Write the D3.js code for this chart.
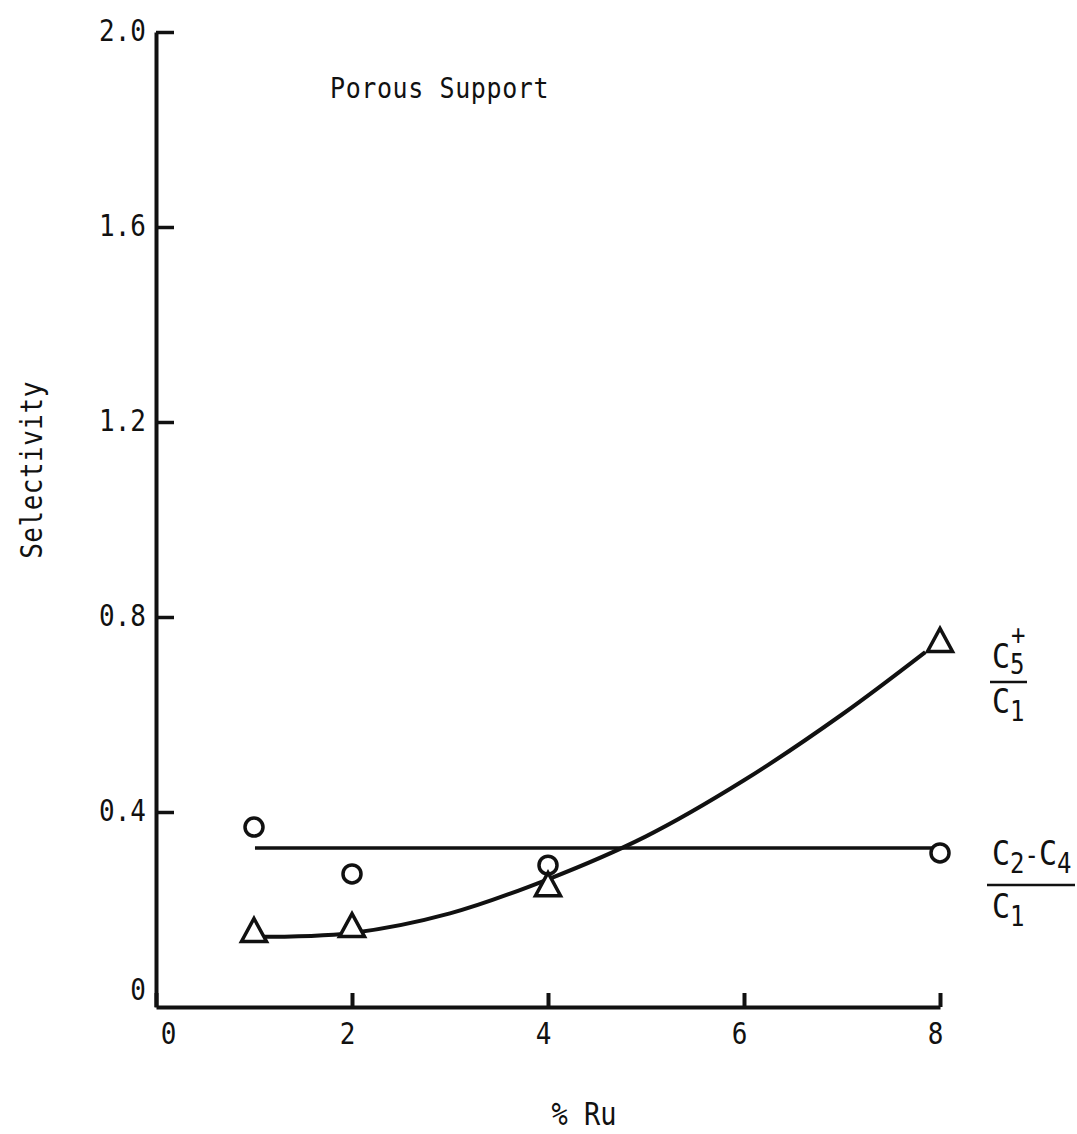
<!DOCTYPE html>
<html>
<head>
<meta charset="utf-8">
<script src="https://cdn.jsdelivr.net/npm/d3@7"></script>
<style>
  body { margin: 0; background: #fff; }
  text { font-family: "DejaVu Sans Mono", monospace; fill: #111; }
</style>
</head>
<body>
<div class="chart"></div>
<script>
// data
var xTicks = [0, 2, 4, 6, 8];
var yTicks = [0, 0.4, 0.8, 1.2, 1.6, 2.0];
var ruPct = [1, 2, 4, 8];
var c24Sel = [0.369, 0.273, 0.291, 0.316];   // circles, (C2-C4)/C1
var c5Sel = [0.158, 0.168, 0.252, 0.753];    // triangles, C5+/C1
var c24Fit = 0.326;                           // flat line level
var c5FitX = [1, 2, 3, 4, 5, 6, 7, 7.85];
var c5FitY = [0.144, 0.152, 0.192, 0.262, 0.35, 0.465, 0.6, 0.728];

var svgWidth = 1077, svgHeight = 1134;
var stretch = "scale(1,1.15)";   // typewriter lettering is taller than it is wide

var svg = d3.select(".chart")
    .append("svg")
    .attr("width", svgWidth)
    .attr("height", svgHeight);

// helper: text placed at x,y and stretched vertically
function addText(parent, px, py, size) {
    return parent.append("text")
        .attr("transform", "translate(" + px + "," + py + ") " + stretch)
        .attr("font-size", size);
}

// scales
var x = d3.scaleLinear().domain([0, 8]).range([156, 940]);
var y = d3.scaleLinear().domain([0, 2.0]).range([1007, 32]);

// x axis
var xAxis = d3.axisBottom(x)
    .tickValues(xTicks)
    .tickSizeInner(-14)
    .tickSizeOuter(0)
    .tickPadding(11)
    .tickFormat(d3.format("d"));

var gx = svg.append("g")
    .attr("transform", "translate(0," + y(0) + ")")
    .call(xAxis);
gx.select(".domain").attr("stroke-width", 4).attr("stroke", "#111");
gx.selectAll(".tick line").attr("stroke-width", 4).attr("stroke", "#111");
gx.selectAll(".tick text")
    .attr("font-size", 26)
    .attr("font-family", "DejaVu Sans Mono")
    .attr("transform", stretch)
    .attr("dx", function(d) { return d === 0 ? 12 : -5; })
    .attr("dy", "0.8em");

// y axis
var yAxis = d3.axisLeft(y)
    .tickValues(yTicks)
    .tickSizeInner(-18)
    .tickSizeOuter(0)
    .tickPadding(10)
    .tickFormat(function(d) { return d === 0 ? "0" : d3.format(".1f")(d); });

var gy = svg.append("g")
    .attr("transform", "translate(" + x(0) + ",0)")
    .call(yAxis);
gy.select(".domain").attr("stroke-width", 4).attr("stroke", "#111");
gy.selectAll(".tick line")
    .attr("stroke-width", 3.5).attr("stroke", "#111")
    .attr("display", function(d) { return d === 0 ? "none" : null; });
gy.selectAll(".tick text")
    .attr("font-size", 26)
    .attr("font-family", "DejaVu Sans Mono")
    .attr("transform", stretch)
    .attr("dy", function(d) { return d === 0 ? "-0.25em" : "0.3em"; });

// flat line for C2-C4
svg.append("line")
    .attr("x1", x(1.01)).attr("x2", x(8))
    .attr("y1", y(c24Fit)).attr("y2", y(c24Fit))
    .attr("stroke", "#111").attr("stroke-width", 3.5);

// curve for C5+
var fit = c5FitX.map(function(d, i) { return [d, c5FitY[i]]; });
var line = d3.line()
    .x(function(d) { return x(d[0]); })
    .y(function(d) { return y(d[1]); })
    .curve(d3.curveCatmullRom);

svg.append("path")
    .datum(fit)
    .attr("d", line)
    .attr("fill", "none")
    .attr("stroke", "#111")
    .attr("stroke-width", 4);

// circles
svg.selectAll(".circ")
    .data(ruPct)
    .enter()
    .append("circle")
    .attr("class", "circ")
    .attr("cx", function(d) { return x(d); })
    .attr("cy", function(d, i) { return y(c24Sel[i]); })
    .attr("r", 9)
    .attr("fill", "#fff")
    .attr("stroke", "#111")
    .attr("stroke-width", 3.5);

// triangles
svg.selectAll(".tri")
    .data(ruPct)
    .enter()
    .append("path")
    .attr("class", "tri")
    .attr("d", "M0,-11.5L12.5,11.5L-12.5,11.5Z")
    .attr("transform", function(d, i) {
        return "translate(" + x(d) + "," + y(c5Sel[i]) + ")";
    })
    .attr("fill", "#fff")
    .attr("stroke", "#111")
    .attr("stroke-width", 3.5)
    .attr("stroke-linejoin", "miter");

// title inside plot
addText(svg, 330, 98, 25)
    .attr("letter-spacing", 0.6)
    .text("Porous Support");

// axis labels
svg.append("text")
    .attr("transform", "translate(42,470) rotate(-90) scale(1.0,1.15)")
    .attr("text-anchor", "middle")
    .attr("font-size", 26)
    .attr("letter-spacing", 0.5)
    .text("Selectivity");

addText(svg, 584, 1125, 27)
    .attr("text-anchor", "middle")
    .text("% Ru");

// ratio labels on the right
var lab1 = svg.append("g");
var n1 = addText(lab1, 992, 668, 30);
n1.append("tspan").text("C");
n1.append("tspan").attr("font-size", 24).attr("dy", 5).text("5");
addText(lab1, 1011, 645, 24).text("+");
lab1.append("line")
    .attr("x1", 990).attr("x2", 1027).attr("y1", 682).attr("y2", 682)
    .attr("stroke", "#111").attr("stroke-width", 2.5);
var d1 = addText(lab1, 992, 713, 30);
d1.append("tspan").text("C");
d1.append("tspan").attr("font-size", 24).attr("dy", 7).text("1");

var lab2 = svg.append("g");
var n2 = addText(lab2, 992, 865, 30);
n2.append("tspan").text("C");
n2.append("tspan").attr("font-size", 24).attr("dy", 7).text("2");
n2.append("tspan").attr("font-size", 24).attr("dy", -7).text("-");
n2.append("tspan").text("C");
n2.append("tspan").attr("font-size", 24).attr("dy", 7).text("4");
lab2.append("line")
    .attr("x1", 987).attr("x2", 1075).attr("y1", 885).attr("y2", 885)
    .attr("stroke", "#111").attr("stroke-width", 2.5);
var d2 = addText(lab2, 992, 918, 30);
d2.append("tspan").text("C");
d2.append("tspan").attr("font-size", 24).attr("dy", 7).text("1");
</script>
</body>
</html>
